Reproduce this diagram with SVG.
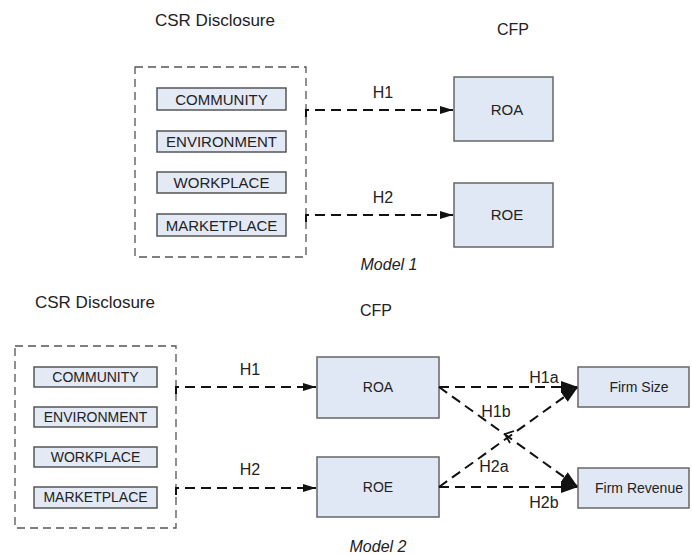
<svg xmlns="http://www.w3.org/2000/svg" width="692" height="555" viewBox="0 0 692 555">
<defs>
<style>
text{font-family:"Liberation Sans",Arial,sans-serif;fill:#222}
.grp{fill:none;stroke:#555;stroke-width:1.3;stroke-dasharray:8 5}
.item{fill:#e3e9f5;stroke:#555;stroke-width:1.5}
.node{fill:#e1e8f5;stroke:#666;stroke-width:1.5}
.lbl{font-size:14px;text-anchor:middle}
.lbl2{font-size:15px;text-anchor:middle}
.hd{font-size:17px}
.h{font-size:16px;text-anchor:middle}
.con{fill:none;stroke:#111;stroke-width:2;stroke-dasharray:10 6}
.model{font-size:16px;font-style:italic;text-anchor:middle}
</style>
<marker id="a" markerUnits="userSpaceOnUse" markerWidth="14" markerHeight="10" refX="13" refY="5" orient="auto">
<path d="M0,1 L13,5 L0,9 Z" fill="#111"/>
</marker>
<marker id="b" markerUnits="userSpaceOnUse" markerWidth="18" markerHeight="14" refX="17" refY="7" orient="auto">
<path d="M0,1 L17,7 L0,13 Z" fill="#111"/>
</marker>
</defs>
<rect width="692" height="555" fill="#fff"/>

<!-- Model 1 -->
<text class="hd" x="155" y="26">CSR Disclosure</text>
<text class="hd" x="497" y="35" style="font-size:16px">CFP</text>
<g id="m1-csr">
<rect class="grp" x="135" y="67" width="171" height="190"/>
</g>
<g id="m1-community"><rect class="item" x="157" y="88" width="129" height="22"/><text class="lbl2" x="221.5" y="104.5">COMMUNITY</text></g>
<g id="m1-environment"><rect class="item" x="157" y="131" width="129" height="21"/><text class="lbl2" x="221.5" y="147">ENVIRONMENT</text></g>
<g id="m1-workplace"><rect class="item" x="157" y="172" width="129" height="21"/><text class="lbl2" x="221.5" y="188">WORKPLACE</text></g>
<g id="m1-marketplace"><rect class="item" x="157" y="214" width="129" height="22"/><text class="lbl2" x="221.5" y="230.5">MARKETPLACE</text></g>
<g id="m1-roa"><rect class="node" x="454" y="77" width="99" height="64"/><text class="lbl2" x="507" y="115">ROA</text></g>
<g id="m1-roe"><rect class="node" x="454" y="183" width="99" height="64"/><text class="lbl2" x="507" y="220">ROE</text></g>
<g id="m1-connectors">
<path class="con" d="M306,117 V110 H453" marker-end="url(#a)"/>
<path class="con" d="M306,222 V215 H453" marker-end="url(#a)"/>
<text class="h" x="383" y="98">H1</text>
<text class="h" x="383" y="203">H2</text>
</g>
<text class="model" x="389" y="270">Model 1</text>

<!-- Model 2 -->
<text class="hd" x="35" y="308">CSR Disclosure</text>
<text class="hd" x="360" y="316" style="font-size:16px">CFP</text>
<g id="m2-csr">
<rect class="grp" x="15" y="346" width="161" height="182"/>
</g>
<g id="m2-community"><rect class="item" x="34" y="367" width="123" height="20"/><text class="lbl" x="95.5" y="382">COMMUNITY</text></g>
<g id="m2-environment"><rect class="item" x="34" y="407" width="123" height="20"/><text class="lbl" x="95.5" y="422">ENVIRONMENT</text></g>
<g id="m2-workplace"><rect class="item" x="34" y="447" width="123" height="20"/><text class="lbl" x="95.5" y="462">WORKPLACE</text></g>
<g id="m2-marketplace"><rect class="item" x="34" y="487" width="123" height="21"/><text class="lbl" x="95.5" y="502">MARKETPLACE</text></g>
<g id="m2-roa"><rect class="node" x="317" y="357" width="122" height="61"/><text class="lbl" x="378" y="392">ROA</text></g>
<g id="m2-roe"><rect class="node" x="317" y="457" width="122" height="60"/><text class="lbl" x="378" y="492">ROE</text></g>
<g id="m2-firmsize"><rect class="node" x="578" y="367" width="111" height="40"/><text class="lbl" x="639" y="392">Firm Size</text></g>
<g id="m2-firmrevenue"><rect class="node" x="578" y="468" width="111" height="40"/><text class="lbl" x="639" y="493">Firm Revenue</text></g>
<g id="m2-connectors">
<path class="con" d="M176,394 V387 H316" marker-end="url(#a)"/>
<path class="con" d="M176,495 V488 H316" marker-end="url(#a)"/>
<text class="h" x="250" y="375">H1</text>
<text class="h" x="250" y="475">H2</text>
<path class="con" d="M439,387 H578" marker-end="url(#b)"/>
<path class="con" d="M439,387 L578,487" marker-end="url(#b)"/>
<path class="con" d="M439,487 L578,387" marker-end="url(#b)"/>
<path class="con" d="M439,487 H578" marker-end="url(#b)"/>
<path d="M514,431 L505,434 L510,443" fill="none" stroke="#111" stroke-width="1.8"/>
<text class="h" x="544" y="383">H1a</text>
<text class="h" x="496" y="417">H1b</text>
<text class="h" x="494" y="472">H2a</text>
<text class="h" x="544" y="508">H2b</text>
</g>
<text class="model" x="378" y="552">Model 2</text>
</svg>
